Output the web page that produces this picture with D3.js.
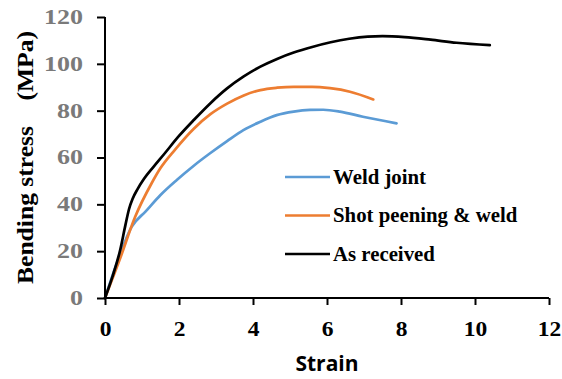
<!DOCTYPE html>
<html>
<head>
<meta charset="utf-8">
<script src="https://cdn.jsdelivr.net/npm/d3@7"></script>
<style>
  body { margin: 0; background: #fff; }
</style>
</head>
<body>
<svg width="562" height="379"></svg>
<script>
const svg = d3.select("svg");

// tick values
const xTicks = [0, 2, 4, 6, 8, 10, 12];
const yTicks = [0, 20, 40, 60, 80, 100, 120];

// series (strain, stress)
const weldJoint = [
  [0, 0], [0.3, 14], [0.72, 30.4], [1.1, 37], [1.5, 44], [1.94, 50.4], [2.4, 56.5],
  [2.84, 61.8], [3.3, 67], [3.74, 71.7], [4.2, 75.3], [4.64, 78.1], [5.1, 79.6],
  [5.54, 80.3], [5.9, 80.4], [6.35, 79.6], [6.97, 77.4], [7.88, 74.6]
];
const shotPeening = [
  [0, 0], [0.4, 16.5], [0.81, 34.5], [1.26, 49], [1.5, 55.5], [1.9, 63.5], [2.4, 72.3],
  [2.85, 78.5], [3.3, 83], [3.75, 86.5], [4.2, 88.8], [4.65, 89.8], [5.1, 90.2],
  [5.6, 90.2], [6.08, 89.6], [6.62, 88.1], [7.25, 84.8]
];
const asReceived = [
  [0, 0], [0.2, 9], [0.41, 20.5], [0.55, 31], [0.65, 38], [0.75, 42.5], [0.88, 46.5],
  [1.05, 50.8], [1.3, 55.8], [1.6, 61.5], [2, 69.2], [2.4, 76], [2.85, 83.2], [3.3, 89.5],
  [3.75, 94.6], [4.2, 98.8], [4.65, 102.1], [5.1, 104.8], [5.6, 107.2], [6.1, 109.2],
  [6.6, 110.7], [7.1, 111.6], [7.5, 111.8], [8.1, 111.4], [8.8, 110.3], [9.5, 109],
  [10.4, 108]
];

const seriesNames = ["Weld joint", "Shot peening & weld", "As received"];
const seriesColors = ["#5b9bd5", "#ed7d31", "#000000"];
const seriesData = [weldJoint, shotPeening, asReceived];

const margin = { left: 105, top: 17, right: 13, bottom: 81 };
const width = 562, height = 379;
const serif = "'Liberation Serif', 'Times New Roman', serif";

const xScale = d3.scaleLinear().domain([0, 12]).range([margin.left, width - margin.right]);
const yScale = d3.scaleLinear().domain([0, 120]).range([height - margin.bottom, margin.top]);

// lines
const line = d3.line()
  .x(d => xScale(d[0]))
  .y(d => yScale(d[1]))
  .curve(d3.curveMonotoneX);

svg.append("g").selectAll("path")
  .data(seriesData)
  .join("path")
    .attr("d", line)
    .attr("fill", "none")
    .attr("stroke", (d, i) => seriesColors[i])
    .attr("stroke-width", 2.7)
    .attr("stroke-linecap", "round")
    .attr("stroke-linejoin", "round");

// y axis (labels a bit wider than the font, as in the picture)
const yStretch = 1.3;
const yAxisG = svg.append("g")
  .attr("transform", `translate(${margin.left},0)`)
  .call(d3.axisLeft(yScale).tickValues(yTicks).tickSize(8).tickPadding(14));
yAxisG.select(".domain").attr("stroke-width", 2).attr("d", `M0,${yScale(0)}V${yScale(120)}`);
yAxisG.selectAll(".tick line").attr("stroke-width", 2);
yAxisG.selectAll(".tick text")
  .attr("font-family", serif)
  .attr("font-weight", "bold")
  .attr("font-size", 20)
  .attr("fill", "#7a7a7a")
  .attr("x", -22 / yStretch)
  .attr("transform", `scale(${yStretch},1)`);

// x axis
const xStretch = 1.12;
const xAxisG = svg.append("g")
  .attr("transform", `translate(0,${yScale(0)})`)
  .call(d3.axisBottom(xScale).tickValues(xTicks).tickSize(7).tickPadding(16));
xAxisG.select(".domain").attr("stroke-width", 2).attr("d", `M${xScale(0)},0H${xScale(12)}`);
xAxisG.selectAll(".tick line").attr("stroke-width", 2);
xAxisG.selectAll(".tick text")
  .attr("font-family", serif)
  .attr("font-weight", "bold")
  .attr("font-size", 21)
  .attr("fill", "#000")
  .attr("transform", `scale(${xStretch},1)`);

// axis titles
svg.append("text")
  .text("Strain")
  .attr("x", 327)
  .attr("y", 371)
  .attr("text-anchor", "middle")
  .attr("font-family", "'Open Sans', 'DejaVu Sans', sans-serif")
  .attr("font-weight", "bold")
  .attr("font-size", 21)
  .attr("fill", "#000");

svg.append("text")
  .text("Bending stress\u00a0\u00a0\u00a0\u00a0(MPa)")
  .attr("transform", "translate(33,284) rotate(-90)")
  .attr("text-anchor", "start")
  .attr("font-family", serif)
  .attr("font-weight", "bold")
  .attr("font-size", 23.5)
  .attr("textLength", 253)
  .attr("lengthAdjust", "spacingAndGlyphs")
  .attr("fill", "#000");

// legend
const legend = svg.append("g").attr("transform", "translate(285,177)");
const legendItems = legend.selectAll("g")
  .data(seriesNames)
  .join("g")
    .attr("transform", (d, i) => `translate(0,${i * 38.5})`);

legendItems.append("line")
  .attr("x1", 0).attr("x2", 45)
  .attr("stroke", (d, i) => seriesColors[i])
  .attr("stroke-width", 2.7);

legendItems.append("text")
  .text(d => d)
  .attr("x", 48)
  .attr("y", 6.5)
  .attr("font-family", serif)
  .attr("font-weight", "bold")
  .attr("font-size", 20)
  .attr("fill", "#000")
  .each(function () {
    const len = this.getComputedTextLength();
    d3.select(this).attr("textLength", len * 1.04).attr("lengthAdjust", "spacingAndGlyphs");
  });
</script>
</body>
</html>
